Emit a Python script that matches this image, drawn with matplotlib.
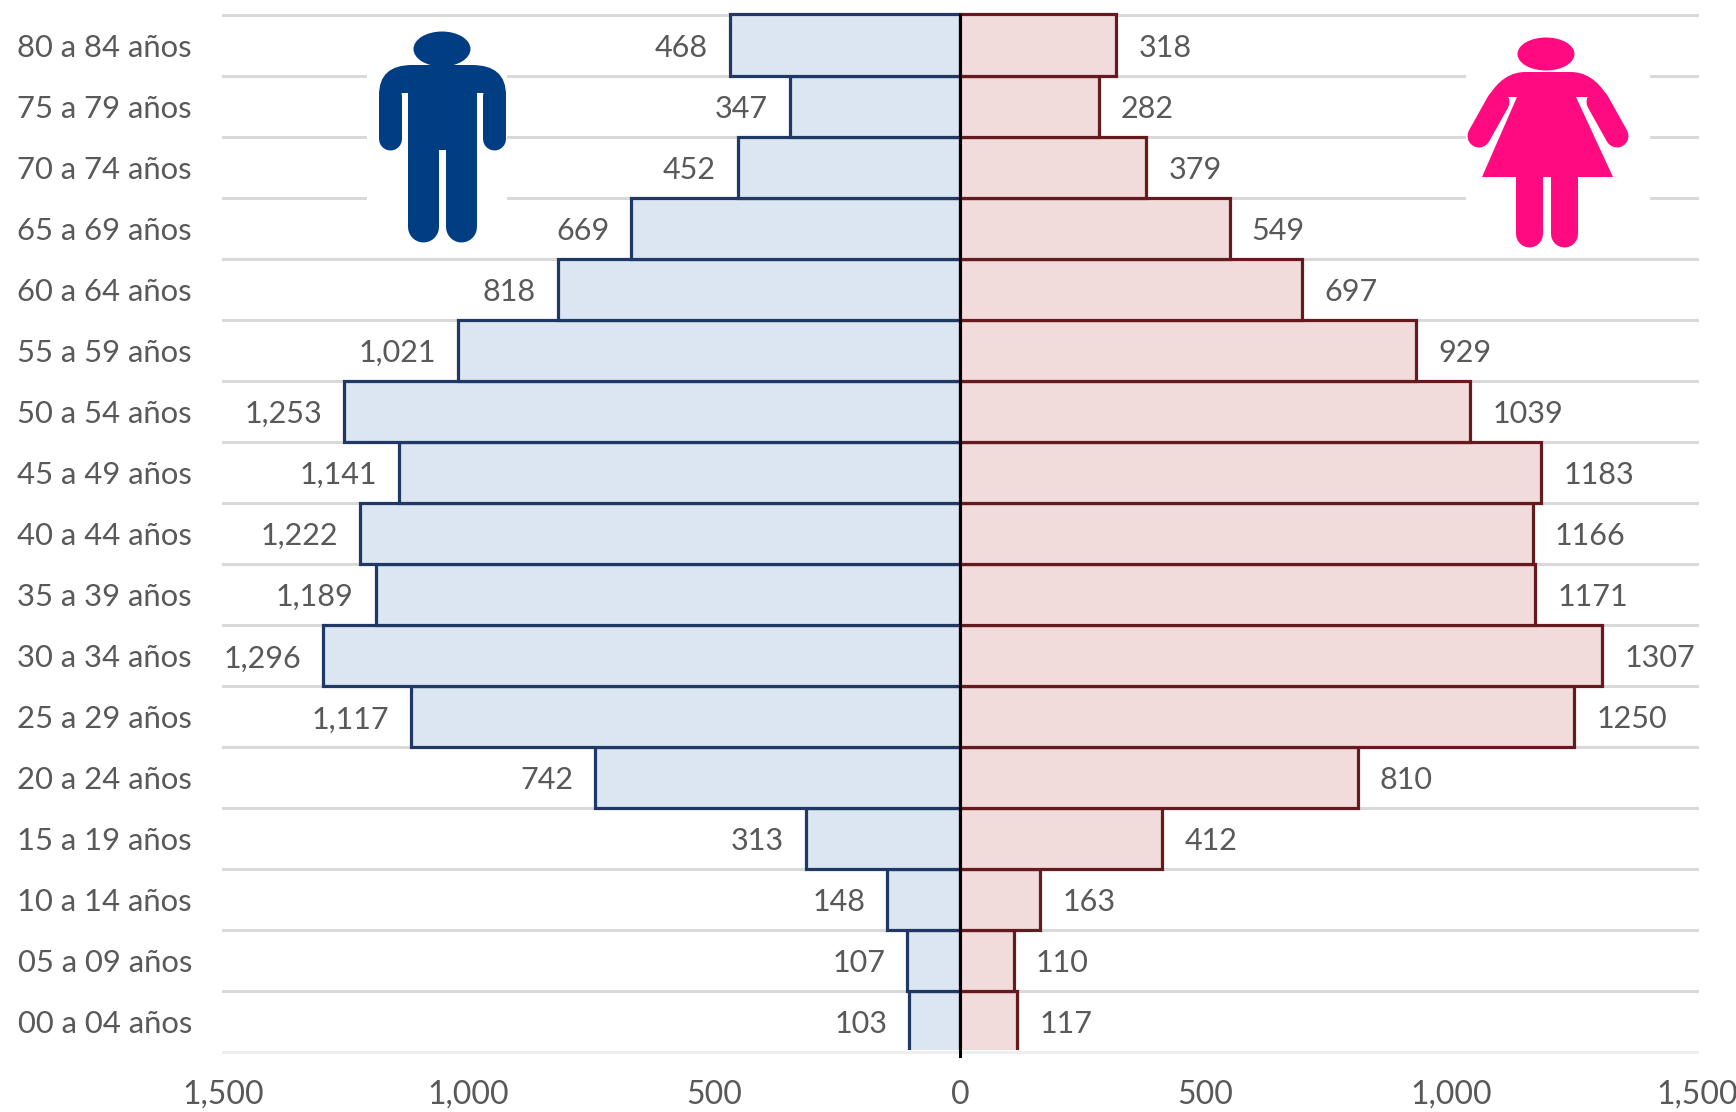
import matplotlib
matplotlib.use("Agg")
import matplotlib.pyplot as plt
from matplotlib.patches import Ellipse, PathPatch, Polygon, Rectangle
from matplotlib.path import Path
from matplotlib.transforms import Bbox, ScaledTranslation, TransformedBbox

plt.rcParams['font.family'] = ['Lato', 'DejaVu Sans']

# grupos de edad, de abajo hacia arriba
edades = ["00 a 04 años", "05 a 09 años", "10 a 14 años", "15 a 19 años",
          "20 a 24 años", "25 a 29 años", "30 a 34 años", "35 a 39 años",
          "40 a 44 años", "45 a 49 años", "50 a 54 años", "55 a 59 años",
          "60 a 64 años", "65 a 69 años", "70 a 74 años", "75 a 79 años",
          "80 a 84 años"]
hombres = [103, 107, 148, 313, 742, 1117, 1296, 1189, 1222, 1141, 1253, 1021,
           818, 669, 452, 347, 468]
mujeres = [117, 110, 163, 412, 810, 1250, 1307, 1171, 1166, 1183, 1039, 929,
           697, 549, 379, 282, 318]
xticks = [-1500, -1000, -500, 0, 500, 1000, 1500]

W, H = 1736, 1112
GRIS = "#595959"
AZUL = "#003d82"
ROSA = "#ff0a80"
px = 72 / 100  # un pixel en puntos

fig = plt.figure(figsize=(W / 100, H / 100), dpi=100)
ax = fig.add_axes([223 / W, 1 - 1052 / H, (1697 - 223) / W, (1052 - 14.5) / H])

ax.set_xlim(-1500, 1500)
ax.set_ylim(-0.5, 16.5)

# lineas de la cuadricula entre grupos
for i in range(18):
    color = "#eeeeee" if i == 0 else "#d9d9d9"
    ax.axhline(i - 0.5, color=color, lw=3 * px, zorder=1, clip_on=False)

posiciones = list(range(len(edades)))
bars_h = ax.barh(posiciones, [-v for v in hombres], height=1, color="#dce6f3",
                 edgecolor="#1f3864", linewidth=3.2 * px, zorder=3)
bars_m = ax.barh(posiciones, mujeres, height=1, color="#f2dcdb",
                 edgecolor="#641a1f", linewidth=3.2 * px, zorder=3)

# el borde inferior de las barras no se ve en el original
clip = TransformedBbox(Bbox([[-0.01, 0.002], [1.01, 1.01]]), ax.transAxes)
for b in list(bars_h) + list(bars_m):
    b.set_clip_box(clip)

ax.axvline(0, color="black", lw=3 * px, zorder=4, ymin=-0.004, clip_on=False)

for y, h, m in zip(posiciones, hombres, mujeres):
    ax.annotate(f"{h:,}", (-h, y), xytext=(-22 * px, -3 * px), textcoords="offset points",
                ha="right", va="center", fontsize=22, color=GRIS, zorder=5)
    ax.annotate(str(m), (m, y), xytext=(22 * px, -3 * px), textcoords="offset points",
                ha="left", va="center", fontsize=22, color=GRIS, zorder=5)

ax.set_yticks(posiciones)
ax.set_yticklabels(edades, fontsize=22.3, color=GRIS)
bajar = ScaledTranslation(0, -1 / 100, fig.dpi_scale_trans)
for t in ax.get_yticklabels():
    t.set_transform(t.get_transform() + bajar)
ax.set_xticks(xticks)
ax.set_xticklabels([f"{abs(t):,}" for t in xticks], fontsize=23, color=GRIS)
ax.tick_params(axis="y", length=0, pad=31 * px)
ax.tick_params(axis="x", length=0, pad=28 * px)
for s in ax.spines.values():
    s.set_visible(False)

# capa en pixeles para las dos figuras
ic = fig.add_axes([0, 0, 1, 1], facecolor="none")
ic.set_xlim(0, W)
ic.set_ylim(H, 0)
ic.axis("off")


def tramo(x0, y0, x1, y1, ancho, color):
    ic.plot([x0, x1], [y0, y1], color=color, lw=ancho * px, solid_capstyle="round", snap=False)


def caja(x, y, w, h, color):
    ic.add_patch(Rectangle((x, y), w, h, color=color, lw=0, snap=False))


# hombre
caja(367, 40, 140, 190, "white")
ic.add_patch(Ellipse((442, 49), 57, 35, color=AZUL, lw=0))
c = [(379, 95), (379, 65), (412, 65), (472, 65), (506, 65), (506, 95), (483, 93), (402, 93), (379, 95)]
cod = [Path.MOVETO, Path.CURVE3, Path.CURVE3, Path.LINETO, Path.CURVE3, Path.CURVE3,
       Path.LINETO, Path.LINETO, Path.CLOSEPOLY]
ic.add_patch(PathPatch(Path(c, cod), color=AZUL, lw=0))
tramo(390.5, 96, 390.5, 139, 23, AZUL)
tramo(494.5, 96, 494.5, 139, 23, AZUL)
caja(408, 75, 69, 75, AZUL)
tramo(423.5, 160, 423.5, 227, 31, AZUL)
tramo(461.5, 160, 461.5, 227, 31, AZUL)
caja(408, 148, 31, 20, AZUL)
caja(446, 148, 31, 20, AZUL)

# mujer
caja(1466, 40, 184, 190, "white")
ic.add_patch(Ellipse((1546, 54), 57, 33, color=ROSA, lw=0))
c = [(1488, 97), (1503, 72), (1525, 72), (1571, 72), (1593, 72), (1608, 97),
     (1577, 97), (1516, 97), (1488, 97)]
cod = [Path.MOVETO, Path.CURVE3, Path.CURVE3, Path.LINETO, Path.CURVE3, Path.CURVE3,
       Path.LINETO, Path.LINETO, Path.CLOSEPOLY]
ic.add_patch(PathPatch(Path(c, cod), color=ROSA, lw=0))
tramo(1498, 102, 1479, 136, 23, ROSA)
tramo(1598, 102, 1617, 136, 23, ROSA)
ic.add_patch(Polygon([(1517, 90), (1576, 90), (1576, 97), (1613, 177), (1482, 177), (1517, 97)],
                     color=ROSA, lw=0))
tramo(1529.5, 170, 1529.5, 234, 27, ROSA)
tramo(1564.5, 170, 1564.5, 234, 27, ROSA)

fig.savefig("out.png", dpi=100)
